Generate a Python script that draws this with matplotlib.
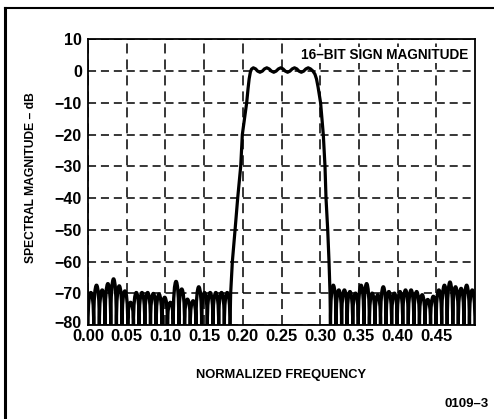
import matplotlib
matplotlib.use("Agg")
import matplotlib.pyplot as plt
from matplotlib.path import Path
from matplotlib.patches import PathPatch
from matplotlib.lines import Line2D
from matplotlib.transforms import ScaledTranslation

plt.rcParams['font.family'] = ['Liberation Sans', 'DejaVu Sans']
plt.rcParams['font.weight'] = 'bold'
plt.rcParams['lines.scale_dashes'] = False

# Axis ticks
x_ticks = [0.00, 0.05, 0.10, 0.15, 0.20, 0.25, 0.30, 0.35, 0.40, 0.45]
x_tick_labels = ["0.00", "0.05", "0.10", "0.15", "0.20", "0.25", "0.30", "0.35", "0.40", "0.45"]
y_ticks = [10, 0, -10, -20, -30, -40, -50, -60, -70, -80]

# Lower stopband: frequency span and sidelobe peak levels (dB)
low_stop_span = (0.0, 0.1835)
low_stop_peaks = [-69.7, -67.4, -68.9, -66.9, -65.4, -67.6, -69.2, -72.8, -69.7, -69.7,
                  -69.7, -70.0, -70.2, -71.2, -72.8, -66.2, -68.6, -71.8, -72.3, -67.9,
                  -69.7, -69.7, -69.7, -69.7, -69.7]

# Upper stopband: frequency span and sidelobe peak levels (dB)
high_stop_span = (0.3133, 0.5)
high_stop_peaks = [-67.4, -68.9, -68.9, -69.4, -69.9, -67.4, -66.9, -69.9, -70.4, -67.9,
                   -69.4, -69.9, -69.4, -68.9, -68.9, -69.4, -70.4, -71.9, -70.9, -68.9,
                   -67.4, -66.4, -67.9, -68.4, -67.4, -68.9]

# Transition bands and passband ripple
band_freq = [0.1835, 0.1843, 0.1865, 0.1900, 0.1934, 0.1973, 0.1994, 0.2050, 0.2068, 0.2082,
             0.2098, 0.2113, 0.2136, 0.2166, 0.2192, 0.2222, 0.2252, 0.2280, 0.2310, 0.2340,
             0.2370, 0.2400, 0.2430, 0.2460, 0.2490, 0.2520, 0.2549, 0.2579, 0.2609, 0.2638,
             0.2668, 0.2698, 0.2726, 0.2756, 0.2786, 0.2815, 0.2845, 0.2875, 0.2905, 0.2932,
             0.2952, 0.2972, 0.3005, 0.3040, 0.3062, 0.3075, 0.3097, 0.3114, 0.3127, 0.3133]
band_db = [-80.0, -70.0, -60.0, -50.0, -40.0, -30.0, -20.0, -10.0, -5.5, -2.5,
           -0.3, 0.6, 1.0, 0.65, -0.05, -0.4, -0.05, 0.65, 1.0, 0.65,
           -0.05, -0.4, -0.05, 0.65, 1.0, 0.65, -0.05, -0.4, -0.05, 0.65,
           1.0, 0.65, -0.05, -0.4, -0.05, 0.65, 1.0, 0.65, 0.0, -1.0,
           -2.5, -5.0, -10.0, -20.0, -30.0, -40.0, -50.0, -60.0, -70.0, -80.0]

FLOOR = -80.0


def sidelobe_path(span, peaks):
    """Chain of arch-shaped sidelobes, one cubic Bezier per lobe."""
    f0, f1 = span
    width = (f1 - f0) / len(peaks)
    verts = [(f0, FLOOR)]
    codes = [Path.MOVETO]
    for i, p in enumerate(peaks):
        a = f0 + i * width
        b = a + width
        # midpoint of the cubic = 0.25*FLOOR + 0.75*ctrl -> lands on the peak
        ctrl = (p - 0.25 * FLOOR) / 0.75
        verts += [(a, ctrl), (b, ctrl), (b, FLOOR)]
        codes += [Path.CURVE4, Path.CURVE4, Path.CURVE4]
    return Path(verts, codes)


fig = plt.figure(figsize=(4.94, 4.19), dpi=100)
ax = fig.add_axes([88 / 494, (419 - 325.2) / 419, 387 / 494, 286 / 419])

ax.set_xlim(0.0, 0.5)
ax.set_ylim(-80, 10)
ax.set_xticks(x_ticks)
ax.set_xticklabels(x_tick_labels)
ax.set_yticks(y_ticks)
ax.tick_params(axis='both', length=0, colors='black')
ax.tick_params(axis='x', labelsize=12, pad=3)
ax.tick_params(axis='y', labelsize=11.5, pad=4.5)
for lab in ax.get_xticklabels() + ax.get_yticklabels():
    lab.set_fontweight('bold')
# lift the bottom y label a little so it clears the x labels
bottom_lab = ax.get_yticklabels()[-1]
bottom_lab.set_transform(bottom_lab.get_transform() +
                         ScaledTranslation(0, 3 / 100, fig.dpi_scale_trans))

ax.xaxis.grid(True, linestyle=(0, (7.2, 4.3)), linewidth=1.1, color='black')
ax.yaxis.grid(True, linestyle=(0, (5.8, 3.5)), linewidth=1.1, color='black')
ax.set_axisbelow(True)
for s in ax.spines.values():
    s.set_linewidth(1.3)

for span, peaks in ((low_stop_span, low_stop_peaks), (high_stop_span, high_stop_peaks)):
    ax.add_patch(PathPatch(sidelobe_path(span, peaks), fill=False,
                           edgecolor='black', linewidth=2.4, joinstyle='round'))

ax.plot(band_freq, band_db, color='black', linewidth=2.3, solid_joinstyle='round')

ax.text(0.982, 0.945, "16–BIT SIGN MAGNITUDE", transform=ax.transAxes,
        ha='right', va='center', fontsize=9.8, fontweight='bold',
        bbox=dict(facecolor='white', edgecolor='none', pad=1.0))

fig.text((88 + 475) / 2 / 494, (419 - 375) / 419, "NORMALIZED FREQUENCY",
         ha='center', va='center', fontsize=9.3, fontweight='bold')
fig.text(31 / 494, (419 - 177.5) / 419, "SPECTRAL MAGNITUDE – dB", rotation=90,
         ha='center', va='center', fontsize=8.7, fontweight='bold')
fig.text(489 / 494, (419 - 404) / 419, "0109–3", ha='right', va='center',
         fontsize=9.5, fontweight='bold')

# Page frame (left and top edges)
fig.add_artist(Line2D([5 / 494, 5 / 494], [0.0, (419 - 8.3) / 419],
                      transform=fig.transFigure, color='black', linewidth=2.2))
fig.add_artist(Line2D([5 / 494, 1.0], [(419 - 8.3) / 419, (419 - 8.3) / 419],
                      transform=fig.transFigure, color='black', linewidth=1.5))

fig.savefig("out.png", dpi=100)
